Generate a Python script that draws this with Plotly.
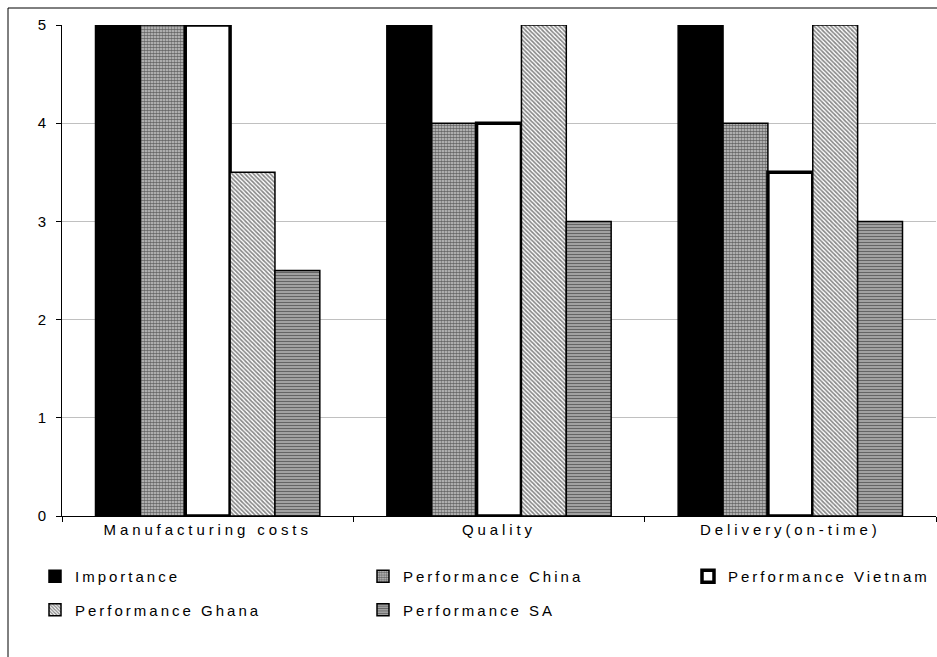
import plotly.graph_objects as go

categories = ["Manufacturing costs", "Quality", "Delivery(on-time)"]
importance = [5, 5, 5]
perf_china = [5, 4, 4]
perf_vietnam = [5, 4, 3.5]
perf_ghana = [3.5, 5, 5]
perf_sa = [2.5, 3, 3]

y_ticks = [0, 1, 2, 3, 4, 5]

W, H = 937, 657
L, R, T, B = 62, 1, 25, 141
pw = W - L - R
ph = H - T - B

fig = go.Figure()
fig.add_trace(go.Bar(
    name="Importance", x=categories, y=importance,
    legend="legend", legendgroup="a",
    marker=dict(color="black", line=dict(color="black", width=1.5)),
))
fig.add_trace(go.Bar(
    name="Performance China", x=categories, y=perf_china,
    legend="legend2", legendgroup="b",
    marker=dict(color="#a0a0a0", line=dict(color="black", width=1.5),
                pattern=dict(shape=".", fgcolor="black", bgcolor="#d0d0d0",
                             size=3, solidity=0.65)),
))
fig.add_trace(go.Bar(
    name="Performance Vietnam", x=categories, y=perf_vietnam,
    legend="legend3", legendgroup="c",
    marker=dict(color="white", line=dict(color="black", width=3.5)),
))
fig.add_trace(go.Bar(
    name="Performance Ghana", x=categories, y=perf_ghana,
    legend="legend", legendgroup="d",
    marker=dict(color="white", line=dict(color="black", width=1.5),
                pattern=dict(shape="\\", fgcolor="#101010", bgcolor="white",
                             size=3, solidity=0.55)),
))
fig.add_trace(go.Bar(
    name="Performance SA", x=categories, y=perf_sa,
    legend="legend2", legendgroup="e",
    marker=dict(color="#a0a0a0", line=dict(color="black", width=1.5),
                pattern=dict(shape="-", fgcolor="#202020", bgcolor="#a8a8a8",
                             size=3, solidity=0.4)),
))

leg_font = dict(family="Arial, Liberation Sans, sans-serif", size=15.01, color="black")
leg_y = (516 - 560) / ph


def leg(xpix):
    return dict(
        orientation="v", x=(xpix - L) / pw, xanchor="left",
        y=leg_y, yanchor="top", itemwidth=30, tracegroupgap=11,
        font=leg_font, bgcolor="rgba(0,0,0,0)",
    )


fig.update_layout(
    width=W, height=H,
    margin=dict(l=L, r=R, t=T, b=B, pad=0),
    paper_bgcolor="white", plot_bgcolor="white",
    barmode="group", bargap=0.23, bargroupgap=0,
    font=dict(family="Arial, Liberation Sans, sans-serif", size=14, color="black"),
    showlegend=True,
    legend=leg(35),
    legend2=leg(363),
    legend3=leg(688),
    xaxis=dict(
        showline=True, linecolor="black", linewidth=1,
        ticks="outside", tickson="boundaries", ticklen=5, tickcolor="black",
        showgrid=False,
        tickfont=dict(size=15),
    ),
    yaxis=dict(
        range=[0, 5], tickvals=y_ticks,
        showline=True, linecolor="black", linewidth=1,
        ticks="outside", ticklen=5, tickcolor="black",
        ticklabelstandoff=7,
        showgrid=True, gridcolor="#c0c0c0", gridwidth=1,
        zeroline=False,
        tickfont=dict(size=15),
    ),
    shapes=[dict(
        type="rect", xref="paper", yref="paper",
        x0=(8 - L) / pw, x1=1.05, y0=-0.5, y1=(516 - 8) / ph,
        line=dict(color="black", width=1), fillcolor="rgba(0,0,0,0)",
        layer="below",
    )],
)

post = (
    "var s=document.createElement('style');"
    "s.textContent='body{margin:0;overflow:hidden} .xtick text{letter-spacing:3.9px} "
    "text.legendtext,text.legend2text,text.legend3text{letter-spacing:3px}';"
    "document.head.appendChild(s);"
    "var gd=document.getElementById('{plot_id}');"
    "['legend','legend2','legend3'].forEach(function(k){gd.layout[k].font.size=15;});"
    "Plotly.newPlot(gd, gd.data, gd.layout, {displayModeBar:false});"
)
fig.write_html("out.html", post_script=post, config={"displayModeBar": False})
